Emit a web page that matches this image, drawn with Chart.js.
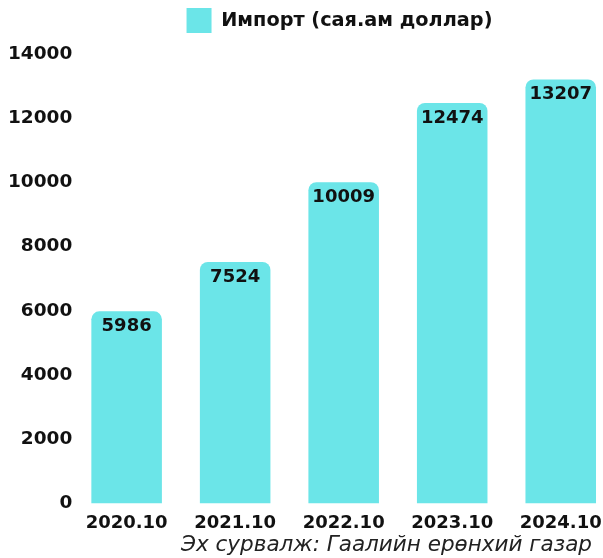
<!DOCTYPE html>
<html>
<head>
<meta charset="utf-8">
<script src="https://cdn.jsdelivr.net/npm/chart.js@4.4.1/dist/chart.umd.min.js"></script>
<style>
  html, body { margin: 0; padding: 0; background: #fff; overflow: hidden; }
  #wrap { width: 615px; height: 558px; }
</style>
</head>
<body>
<div id="wrap"><canvas id="importChart" width="615" height="558"></canvas></div>
<script>
const years = ["2020.10", "2021.10", "2022.10", "2023.10", "2024.10"];
const importValues = [5986, 7524, 10009, 12474, 13207];
const seriesName = "Импорт (сая.ам доллар)";
const sourceNote = "Эх сурвалж: Гаалийн ерөнхий газар";

const FONT = "'DejaVu Sans', sans-serif";

// value labels drawn inside the top of each bar
const barLabels = {
  id: "barLabels",
  afterDatasetsDraw(chart) {
    const ctx = chart.ctx;
    const meta = chart.getDatasetMeta(0);
    ctx.save();
    ctx.font = "bold 18px " + FONT;
    ctx.fillStyle = "#111";
    ctx.textAlign = "center";
    ctx.textBaseline = "middle";
    meta.data.forEach((bar, i) => {
      ctx.fillText(String(importValues[i]), bar.x, bar.y + 15);
    });
    ctx.restore();
  }
};

// nudge legend and footer to where they sit in the original
const shiftBoxes = {
  id: "shiftBoxes",
  afterLayout(chart) {
    const lg = chart.legend;
    lg.left += 28; lg.right += 28;
    lg.top -= 11; lg.bottom -= 11;
    chart.boxes.forEach(b => {
      if (b.options && b.options.text === sourceNote) {
        b.left -= 23; b.right -= 23;
      }
    });
  }
};

new Chart(document.getElementById("importChart").getContext("2d"), {
  type: "bar",
  data: {
    labels: years,
    datasets: [
      {
        label: seriesName,
        data: importValues,
        backgroundColor: "#6be5e8",
        borderRadius: 8,
        borderSkipped: "start",
        categoryPercentage: 1,
        barPercentage: 0.65,
      },
    ],
  },
  options: {
    responsive: false,
    animation: false,
    layout: { padding: { left: 8, top: 11, right: 0, bottom: 0 } },
    scales: {
      x: {
        grid: { display: false, drawTicks: false },
        border: { display: false },
        ticks: { color: "#111", font: { family: FONT, size: 18, weight: "bold" }, padding: 9 },
      },
      y: {
        min: 0,
        max: 14000,
        grid: { display: false, drawTicks: false },
        border: { display: false },
        ticks: {
          stepSize: 2000,
          color: "#111",
          font: { family: FONT, size: 18.5, weight: "bold" },
          padding: 0,
          callback: (v) => String(v),
        },
      },
    },
    plugins: {
      legend: {
        display: true,
        position: "top",
        labels: {
          boxWidth: 25,
          boxHeight: 25,
          color: "#111",
          padding: 8,
          font: { family: FONT, size: 19.3, weight: "bold" },
        },
      },
      subtitle: {
        display: true,
        text: sourceNote,
        position: "bottom",
        align: "end",
        color: "#222",
        font: { family: FONT, size: 21.5, style: "italic", weight: "normal" },
        padding: { top: -11, bottom: 0 },
      },
      tooltip: { enabled: false },
    },
  },
  plugins: [barLabels, shiftBoxes],
});
</script>
</body>
</html>
